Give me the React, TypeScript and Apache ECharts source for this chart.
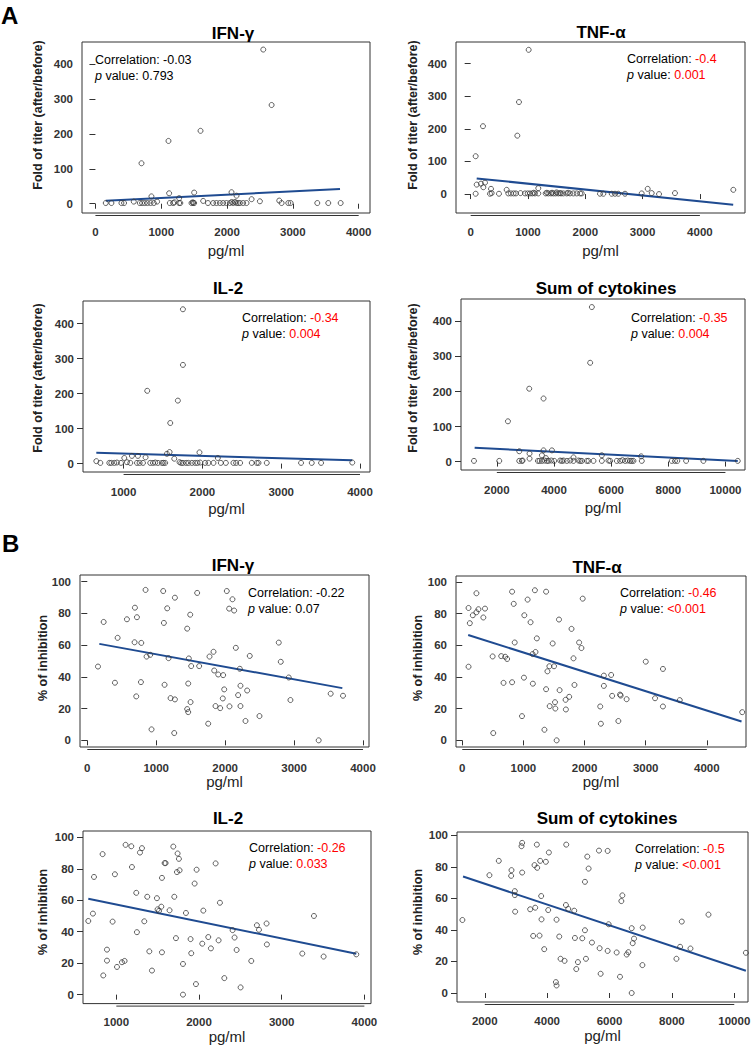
import React, { useEffect, useRef } from "react";
import * as echarts from "echarts";

type Pt = [number, number];

// ---------------- DATA ----------------
// Panel A: fold of titer (after/before) vs cytokine level (pg/ml)
const A_IFN_PTS: Pt[] = [
  [157, 2], [243, 2], [395, 2], [435, 2], [583, 6], [674, 2], [709, 2], [750, 2], [791, 2], [837, 2],
  [887, 2], [937, 6], [851, 21], [700, 116], [1110, 180], [1120, 30], [1130, 2], [1181, 2], [1200, 4], [1272, 16],
  [1272, 2], [1290, 2], [1460, 2], [1480, 4], [1485, 2], [1500, 2], [1500, 32], [1597, 209], [1637, 8], [1710, 2],
  [1789, 2], [1839, 2], [1890, 2], [1941, 2], [1991, 2], [2042, 2], [2068, 33], [2070, 5], [2093, 2], [2120, 5],
  [2143, 2], [2144, 23], [2169, 2], [2195, 2], [2245, 2], [2296, 2], [2373, 13], [2499, 7], [2550, 442], [2677, 283],
  [2793, 9], [2829, 2], [2930, 2], [2966, 2], [3371, 2], [3538, 2], [3726, 2],
];
const A_IFN_FIT: Pt[] = [[157, 8.6], [3716, 41.9]];

const A_TNF_PTS: Pt[] = [
  [87, 116], [87, 1], [105, 29], [180, 32], [221, 21], [250, 35], [215, 208], [337, 1], [355, 16], [366, 3],
  [494, 1], [628, 13], [657, 2], [703, 2], [750, 2], [790, 2], [814, 179], [843, 282], [870, 3], [948, 2],
  [995, 2], [1012, 442], [1035, 2], [1075, 2], [1100, 4], [1122, 2], [1180, 18], [1180, 2], [1309, 2], [1330, 4],
  [1355, 2], [1402, 2], [1420, 4], [1443, 2], [1484, 2], [1500, 5], [1530, 2], [1560, 3], [1577, 2], [1617, 2],
  [1676, 2], [1700, 4], [1734, 2], [1792, 2], [1850, 2], [1909, 2], [1938, 2], [2257, 1], [2315, 1], [2461, 1],
  [2519, 1], [2577, 1], [2693, 1], [2984, 2], [3089, 16], [3159, 3], [3287, 0], [3565, 3], [4583, 13],
];
const A_TNF_FIT: Pt[] = [[105, 48], [4581, -32.7]];

const A_IL2_PTS: Pt[] = [
  [654, 7], [705, 2], [819, 2], [844, 2], [882, 2], [916, 3], [967, 2], [1009, 16], [1043, 4], [1085, 2],
  [1106, 22], [1170, 2], [1182, 22], [1203, 2], [1246, 2], [1279, 18], [1300, 208], [1338, 2], [1373, 2], [1402, 3],
  [1436, 2], [1487, 2], [1507, 2], [1528, 2], [1550, 28], [1584, 33], [1592, 116], [1643, 14], [1689, 180], [1710, 4],
  [1731, 2], [1753, 441], [1753, 282], [1753, 2], [1794, 2], [1823, 2], [1867, 2], [1909, 2], [1938, 2], [1963, 32],
  [1972, 3], [2035, 2], [2077, 2], [2141, 2], [2196, 16], [2234, 2], [2298, 2], [2394, 2], [2428, 2], [2479, 2],
  [2627, 2], [2691, 2], [2712, 2], [2817, 2], [3252, 2], [3388, 2], [3506, 2], [3902, 3],
];
const A_IL2_FIT: Pt[] = [[654, 31], [3902, 9.5]];

const A_SUM_PTS: Pt[] = [
  [1199, 2], [2084, 2], [2388, 115], [2784, 29.5], [2784, 2], [2877, 2], [2900, 3], [3133, 208], [3144, 23], [3144, 8.5],
  [3437, 2], [3494, 2], [3577, 18], [3577, 2], [3634, 180], [3634, 32], [3668, 3], [3717, 10], [3752, 2], [3808, 2],
  [3903, 3], [3927, 32], [4008, 2], [4217, 3], [4277, 2], [4333, 3], [4452, 2], [4567, 3], [4683, 12], [4683, 2],
  [4858, 3], [4917, 2], [4975, 2], [5151, 2], [5207, 2], [5266, 282], [5325, 441], [5382, 2], [5675, 18], [5675, 2],
  [5907, 3], [5966, 2], [6200, 2], [6316, 2], [6396, 4], [6491, 2], [6584, 3], [6665, 2], [6725, 2], [6781, 2],
  [7050, 15], [7073, 2], [8123, 2], [8236, 2], [8315, 2], [8624, 2], [9229, 2], [10432, 2],
];
const A_SUM_FIT: Pt[] = [[1222, 39.5], [10432, 1.5]];

// Panel B: % of inhibition vs cytokine level (pg/ml)
const B_IFN_PTS: Pt[] = [
  [155, 46.5], [237, 74.6], [401, 36.3], [440, 64.6], [575, 76.3], [686, 61.8], [691, 83.6], [710, 27.7], [720, 77.6], [783, 61.4],
  [778, 36.7], [845, 94.8], [860, 52.8], [913, 53.9], [932, 6.9], [1101, 94.1], [1111, 74], [1121, 35], [1159, 83.2], [1179, 51.8],
  [1208, 26.6], [1271, 89.9], [1271, 25.8], [1261, 4.6], [1449, 70.4], [1464, 35.8], [1449, 19.7], [1464, 17.8], [1473, 51.6], [1493, 79.2],
  [1507, 46.8], [1498, 24.1], [1594, 92.9], [1623, 46.8], [1754, 10.5], [1773, 52.8], [1831, 55.8], [1841, 44], [1860, 21.6], [1899, 41.5],
  [1928, 20.3], [1971, 41.1], [1966, 26.4], [1986, 32.1], [2024, 94.1], [2058, 83], [2106, 88.9], [2130, 81.8], [2155, 58.3], [2188, 28.5],
  [2213, 45.1], [2222, 34.4], [2222, 21.6], [2063, 21.4], [2295, 12.2], [2319, 31.4], [2357, 53.2], [2498, 15.3], [2778, 61.6], [2807, 49.5],
  [2923, 39.6], [2947, 25.4], [3357, 0], [3531, 29.4], [3710, 28.1],
];
const B_IFN_FIT: Pt[] = [[174, 60.8], [3700, 32.9]];

const B_TNF_PTS: Pt[] = [
  [103, 46.5], [103, 83.6], [124, 74], [173, 79], [232, 92.9], [232, 80.9], [265, 82.8], [345, 77.6], [372, 83.2], [497, 53],
  [507, 4.6], [637, 53.2], [675, 36.3], [702, 52.8], [734, 51.4], [815, 93.9], [815, 36.7], [842, 86.2], [858, 61.8], [977, 15.3],
  [1015, 79], [1009, 39.6], [1069, 88.9], [1117, 74.6], [1150, 54.5], [1155, 35.8], [1188, 94.8], [1198, 55.8], [1220, 64.4], [1344, 6.7],
  [1371, 93.9], [1371, 32.3], [1393, 43.6], [1425, 46.8], [1430, 21.6], [1479, 61.2], [1501, 46.8], [1517, 24.1], [1522, 20.1], [1544, 0],
  [1582, 76.3], [1592, 31.7], [1690, 25.6], [1695, 19.5], [1749, 27.5], [1787, 70.4], [1819, 51.8], [1835, 35], [1911, 61.8], [1949, 58.3],
  [1970, 89.5], [2256, 21.4], [2267, 10.5], [2316, 40.9], [2316, 34.4], [2435, 41.3], [2451, 28.1], [2553, 12.2], [2580, 28.9], [2591, 28.3],
  [2688, 26], [3001, 49.7], [3153, 26.6], [3282, 45.1], [3282, 21.4], [3557, 25.4], [4578, 17.8],
];
const B_TNF_FIT: Pt[] = [[97, 66.5], [4567, 11.9]];

const B_IL2_PTS: Pt[] = [
  [661, 46.8], [717, 51.5], [730, 74.8], [834, 89.3], [842, 12.2], [887, 28.6], [887, 21.6], [955, 46.4], [983, 76.5], [1008, 17.6],
  [1068, 20.6], [1100, 21.4], [1112, 95.2], [1181, 94.3], [1189, 81.1], [1241, 64.7], [1249, 39.7], [1286, 90.3], [1310, 93.1], [1338, 46.6],
  [1374, 62.2], [1399, 27.5], [1431, 15.3], [1491, 61.3], [1499, 54.2], [1516, 53.2], [1544, 55.9], [1552, 74.2], [1552, 26.9], [1584, 83.6],
  [1596, 83.6], [1644, 53.6], [1689, 94.1], [1701, 62.2], [1721, 35.9], [1733, 77.9], [1741, 89.7], [1757, 86.3], [1765, 79], [1806, 19.5],
  [1806, 0], [1842, 51.9], [1898, 35.3], [1906, 26.3], [1947, 70.6], [1963, 6.7], [1971, 79.4], [2039, 32.4], [2052, 53.4], [2112, 36.6],
  [2144, 29.4], [2201, 83.4], [2237, 34.5], [2253, 58.4], [2306, 10.5], [2406, 41], [2430, 36.3], [2455, 28.4], [2503, 4.6], [2632, 21.4],
  [2700, 44.1], [2725, 41.2], [2817, 45.2], [2821, 31.9], [3249, 26.1], [3390, 50], [3507, 24.2], [3902, 25.6],
];
const B_IL2_FIT: Pt[] = [[661, 60.9], [3902, 26]];

const B_SUM_PTS: Pt[] = [
  [1283, 46.3], [2150, 74.7], [2450, 83.8], [2846, 74.3], [2857, 77.9], [2964, 64.6], [2964, 62.1], [2974, 51.6], [3178, 93.1], [3199, 95.2],
  [3199, 76.4], [3456, 53.1], [3552, 36.2], [3595, 81.1], [3617, 54.1], [3670, 94.1], [3681, 79.4], [3756, 36.4], [3777, 83.8], [3809, 61.5],
  [3820, 46.7], [3906, 27.8], [3959, 83.2], [4034, 52.6], [4056, 89.1], [4281, 6.9], [4302, 4.8], [4302, 46.5], [4388, 35.8], [4430, 21.7],
  [4559, 20.4], [4602, 55.8], [4612, 94.1], [4677, 53.3], [4869, 52.2], [4891, 34.9], [4934, 15.2], [4987, 19.6], [5126, 34.7], [5212, 70.5],
  [5212, 39.8], [5244, 21.7], [5287, 86.5], [5330, 78.9], [5437, 32], [5662, 90.3], [5683, 28.4], [5715, 12.2], [5940, 90.1], [5940, 26.7],
  [5972, 43.6], [6229, 25.7], [6336, 10.3], [6379, 58.3], [6411, 61.9], [6550, 24.4], [6604, 25.9], [6711, 0], [6711, 41.1], [6743, 31.6],
  [6786, 34.5], [7054, 17.7], [7064, 41.5], [8146, 21.7], [8263, 29.3], [8317, 45.3], [8595, 28.2], [9173, 49.7], [10373, 25.5],
];
const B_SUM_FIT: Pt[] = [[1304, 73.9], [10373, 14.1]];

const PANEL_POINTS = [A_IFN_PTS, A_TNF_PTS, A_IL2_PTS, A_SUM_PTS, B_IFN_PTS, B_TNF_PTS, B_IL2_PTS, B_SUM_PTS];
const PANEL_FITS = [A_IFN_FIT, A_TNF_FIT, A_IL2_FIT, A_SUM_FIT, B_IFN_FIT, B_TNF_FIT, B_IL2_FIT, B_SUM_FIT];
const PANEL_TITLES = ["IFN-γ", "TNF-α", "IL-2", "Sum of cytokines", "IFN-γ", "TNF-α", "IL-2", "Sum of cytokines"];
const CORRELATIONS = ["-0.03", "-0.4", "-0.34", "-0.35", "-0.22", "-0.46", "-0.26", "-0.5"];
const P_VALUES = ["0.793", "0.001", "0.004", "0.004", "0.07", "<0.001", "0.033", "<0.001"];
const SIGNIFICANT = [false, true, true, true, false, true, true, true];

const X_TICKS_0_4000 = [0, 1000, 2000, 3000, 4000];
const X_TICKS_1000_4000 = [1000, 2000, 3000, 4000];
const X_TICKS_SUM = [2000, 4000, 6000, 8000, 10000];
const Y_TICKS_FOLD = [0, 100, 200, 300, 400];
const Y_TICKS_INHIB = [0, 20, 40, 60, 80, 100];
const PANEL_X_TICKS = [X_TICKS_0_4000, X_TICKS_0_4000, X_TICKS_1000_4000, X_TICKS_SUM, X_TICKS_0_4000, X_TICKS_0_4000, X_TICKS_1000_4000, X_TICKS_SUM];
const PANEL_Y_TICKS = [Y_TICKS_FOLD, Y_TICKS_FOLD, Y_TICKS_FOLD, Y_TICKS_FOLD, Y_TICKS_INHIB, Y_TICKS_INHIB, Y_TICKS_INHIB, Y_TICKS_INHIB];
const Y_NAMES = ["Fold of titer (after/before)", "Fold of titer (after/before)", "Fold of titer (after/before)", "Fold of titer (after/before)",
  "% of inhibition", "% of inhibition", "% of inhibition", "% of inhibition"];
const X_NAME = "pg/ml";
const SECTION_LABELS = ["A", "B"];

// ---------------- LAYOUT ----------------
const LAYOUT = [
  { box: [82, 42, 288, 171], xr: [-204, 4172], yr: [-26.6, 463.7], title: [233, 33], ann: [95, 60], yname: [38, 115], lm: 10, ng: 27 },
  { box: [456, 42, 289, 171], xr: [-256, 4787], yr: [-58, 466], title: [601, 32], ann: [627, 59], yname: [413, 115], lm: 10, ng: 27 },
  { box: [83, 301, 287, 171], xr: [485, 4127], yr: [-24, 464.6], title: [228, 288], ann: [242, 318], yname: [38, 378], lm: 11, ng: 26 },
  { box: [461, 299, 284, 171], xr: [745, 10685], yr: [-24, 464], title: [606, 288], ann: [631, 318], yname: [413, 378], lm: 11, ng: 27 },
  { box: [80, 575, 289, 172], xr: [-106, 4087], yr: [-4.2, 104.2], title: [233, 565], ann: [248, 593], yname: [43, 658], lm: 12, ng: 22 },
  { box: [456, 576, 290, 171], xr: [-102, 4640], yr: [-4.2, 103.8], title: [597, 567], ann: [620, 593], yname: [418, 658], lm: 12, ng: 21 },
  { box: [83, 831, 288, 174], xr: [597, 4080], yr: [-5.7, 104], title: [228, 818], ann: [249, 848], yname: [43, 912], lm: 10, ng: 21 },
  { box: [457, 832, 291, 170], xr: [1110, 10440], yr: [-5.7, 102.1], title: [607, 818], ann: [635, 849], yname: [418, 912], lm: 10, ng: 23 },
];
const SECTION_POS = [[1, 15], [2, 543]];

const FONT = '"Liberation Sans", Arial, Helvetica, sans-serif';
const AXIS_OFFSET = 2.5;

export default function App() {
  const ref = useRef<HTMLDivElement | null>(null);

  useEffect(() => {
    if (!ref.current) return;
    const chart = echarts.init(ref.current, undefined, { renderer: "svg" });

    const grids = LAYOUT.map((l) => ({
      left: l.box[0], top: l.box[1], width: l.box[2], height: l.box[3],
      show: true, borderColor: "#333", borderWidth: 1, backgroundColor: "transparent", containLabel: false,
    }));

    const xAxes = LAYOUT.map((l, i) => ({
      type: "value", gridIndex: i, min: l.xr[0], max: l.xr[1], offset: AXIS_OFFSET,
      name: X_NAME, nameLocation: "middle", nameGap: l.ng,
      nameTextStyle: { fontFamily: FONT, fontSize: 15, color: "#222" },
      axisLine: { show: false },
      splitLine: { show: false },
      axisTick: { show: true, inside: false, length: 5, customValues: PANEL_X_TICKS[i], lineStyle: { color: "#333", width: 1 } },
      axisLabel: { show: true, margin: l.lm, customValues: PANEL_X_TICKS[i], fontFamily: FONT, fontWeight: "bold", fontSize: 11.5, color: "#333", formatter: (v: number) => String(v) },
    }));

    const yAxes = LAYOUT.map((l, i) => ({
      type: "value", gridIndex: i, min: l.yr[0], max: l.yr[1],
      axisLine: { show: false },
      splitLine: { show: false },
      axisTick: { show: true, inside: false, length: 6, customValues: PANEL_Y_TICKS[i], lineStyle: { color: "#333", width: 1 } },
      axisLabel: { show: true, margin: 9, customValues: PANEL_Y_TICKS[i], fontFamily: FONT, fontWeight: "bold", fontSize: 11.5, color: "#333", formatter: (v: number) => String(v) },
    }));

    const series: any[] = [];
    PANEL_POINTS.forEach((pts, i) => {
      series.push({
        type: "scatter", xAxisIndex: i, yAxisIndex: i, data: pts, symbol: "circle", symbolSize: 5,
        itemStyle: { color: "rgba(0,0,0,0)", borderColor: "#3a3a3a", borderWidth: 1 },
        emphasis: { disabled: true }, z: 3,
      });
      series.push({
        type: "line", xAxisIndex: i, yAxisIndex: i, data: PANEL_FITS[i], showSymbol: false, symbol: "none",
        lineStyle: { color: "#1f4b91", width: 2 }, emphasis: { disabled: true }, z: 2,
      });
    });

    const texts: any[] = [];
    SECTION_LABELS.forEach((s, k) => {
      texts.push({
        type: "text", x: SECTION_POS[k][0], y: SECTION_POS[k][1],
        style: { text: s, font: `bold 24px ${FONT}`, fill: "#000", textAlign: "left", align: "left", textVerticalAlign: "middle", verticalAlign: "middle" },
      });
    });
    LAYOUT.forEach((l, i) => {
      texts.push({
        type: "text", x: l.title[0], y: l.title[1],
        style: { text: PANEL_TITLES[i], font: `bold 17px ${FONT}`, fill: "#000", textAlign: "center", align: "center", textVerticalAlign: "middle", verticalAlign: "middle" },
      });
      texts.push({
        type: "text", x: l.yname[0], y: l.yname[1], rotation: Math.PI / 2,
        style: { text: Y_NAMES[i], font: `bold 12.5px ${FONT}`, fill: "#222", textAlign: "center", align: "center", textVerticalAlign: "middle", verticalAlign: "middle" },
      });
      const valColor = SIGNIFICANT[i] ? "#ff0000" : "#000";
      const rich = {
        n: { fontFamily: FONT, fontSize: 12.5, fill: "#000", color: "#000" },
        i: { fontFamily: FONT, fontSize: 12.5, fontStyle: "italic", fill: "#000", color: "#000" },
        r: { fontFamily: FONT, fontSize: 12.5, fill: valColor, color: valColor },
      };
      texts.push({
        type: "text", x: l.ann[0], y: l.ann[1],
        style: { text: `{n|Correlation: }{r|${CORRELATIONS[i]}}`, rich, font: `12.5px ${FONT}`, fill: "#000", textAlign: "left", align: "left", textVerticalAlign: "middle", verticalAlign: "middle" },
      });
      texts.push({
        type: "text", x: l.ann[0], y: l.ann[1] + 16,
        style: { text: `{i|p}{n| value: }{r|${P_VALUES[i]}}`, rich, font: `12.5px ${FONT}`, fill: "#000", textAlign: "left", align: "left", textVerticalAlign: "middle", verticalAlign: "middle" },
      });
    });

    chart.setOption({
      animation: false,
      backgroundColor: "#fff",
      grid: grids,
      xAxis: xAxes,
      yAxis: yAxes,
      series,
    });

    // R-style x-axis line spanning only the tick range, placed through the axis scales
    const lines: any[] = [];
    LAYOUT.forEach((l, i) => {
      const ticks = PANEL_X_TICKS[i];
      const p0 = chart.convertToPixel({ gridIndex: i } as any, [ticks[0], l.yr[0]]) as number[];
      const p1 = chart.convertToPixel({ gridIndex: i } as any, [ticks[ticks.length - 1], l.yr[0]]) as number[];
      if (p0 && p1) {
        const yy = p0[1] + AXIS_OFFSET;
        lines.push({ type: "line", shape: { x1: p0[0], y1: yy, x2: p1[0], y2: yy }, style: { stroke: "#333", lineWidth: 1 }, silent: true });
      }
    });

    chart.setOption({ graphic: [...texts, ...lines] });

    return () => chart.dispose();
  }, []);

  return <div ref={ref} style={{ position: "absolute", left: 0, top: 0, width: 755, height: 1045 }} />;
}
